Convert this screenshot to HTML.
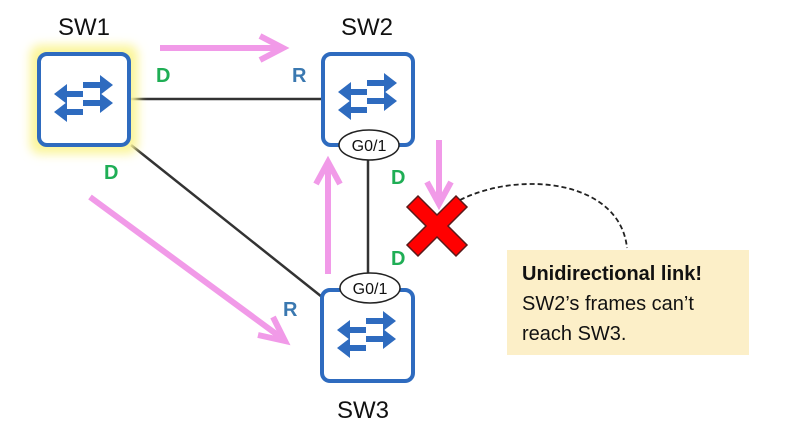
<!DOCTYPE html>
<html><head><style>
body{margin:0;background:#fff;}
svg{display:block;font-family:"Liberation Sans",sans-serif;}
</style></head><body>
<svg width="788" height="435" viewBox="0 0 788 435">
<defs>
<filter id="glow" x="-30%" y="-30%" width="160%" height="160%"><feGaussianBlur stdDeviation="5"/></filter>
<g id="icon" fill="#2e6bbf">
<path d="M46 30 h17 v-7 l13 10 -13 10 v-7 h-17z"/>
<path d="M46 48 h17 v-7 l13 10 -13 10 v-7 h-17z"/>
<path d="M46 39 h-16 v-7 l-13 10 13 10 v-7 h16z"/>
<path d="M46 57 h-16 v-7 l-13 10 13 10 v-7 h16z"/>
</g>
</defs>
<line x1="131" y1="99" x2="321" y2="99" stroke="#333" stroke-width="2.5"/>
<line x1="131" y1="145" x2="322" y2="297" stroke="#333" stroke-width="2.5"/>
<line x1="368" y1="158" x2="368" y2="274" stroke="#333" stroke-width="2.5"/>
<rect x="30" y="45" width="108" height="109" rx="10" fill="#fbf59a" filter="url(#glow)"/>
<rect x="39" y="54" width="90" height="91" rx="8" fill="#fff" stroke="#2e6bbf" stroke-width="4"/>
<use href="#icon" x="37" y="52"/>
<rect x="323" y="54" width="90" height="91" rx="8" fill="#fff" stroke="#2e6bbf" stroke-width="4"/>
<use href="#icon" x="321" y="50"/>
<rect x="322" y="290" width="91" height="91" rx="8" fill="#fff" stroke="#2e6bbf" stroke-width="4"/>
<use href="#icon" x="320" y="288"/>
<ellipse cx="369" cy="145" rx="30" ry="15" fill="#fff" stroke="#222" stroke-width="1.5"/>
<text x="369" y="151" font-size="16" text-anchor="middle" fill="#111">G0/1</text>
<ellipse cx="370" cy="288" rx="30" ry="15" fill="#fff" stroke="#222" stroke-width="1.5"/>
<text x="370" y="294" font-size="16" text-anchor="middle" fill="#111">G0/1</text>
<text x="84" y="35" font-size="24" text-anchor="middle" fill="#111">SW1</text>
<text x="367" y="35" font-size="24" text-anchor="middle" fill="#111">SW2</text>
<text x="363" y="418" font-size="24" text-anchor="middle" fill="#111">SW3</text>
<g font-size="20" font-weight="bold">
<text x="156" y="82" fill="#1fae55">D</text>
<text x="292" y="82" fill="#3a78b0">R</text>
<text x="104" y="179" fill="#1fae55">D</text>
<text x="391" y="184" fill="#1fae55">D</text>
<text x="391" y="265" fill="#1fae55">D</text>
<text x="283" y="316" fill="#3a78b0">R</text>
</g>
<g stroke="#f19ae8" stroke-width="6" fill="none">
<line x1="160" y1="48" x2="282" y2="48"/>
<polyline points="260,36 283,48 260,60"/>
<line x1="90" y1="197" x2="283" y2="339"/>
<polyline points="258,335 285,341 273,317"/>
<line x1="328" y1="274" x2="328" y2="163"/>
<polyline points="316,184 328,162 340,184"/>
<line x1="439" y1="140" x2="439" y2="203"/>
<polyline points="427,182 439,204 451,182"/>
</g>
<path d="M418 196 L437 215 L456 196 L467 207 L448 226 L467 245 L456 256 L437 237 L418 256 L407 245 L426 226 L407 207Z" fill="#f00" stroke="#5a1a1a" stroke-width="1.5"/>
<path d="M460 200 C520 170 620 180 627 248" fill="none" stroke="#222" stroke-width="1.8" stroke-dasharray="5,3"/>
<rect x="507" y="250" width="242" height="105" fill="#fcefc8"/>
<text x="522" y="280" font-size="20" font-weight="bold" fill="#111">Unidirectional link!</text>
<text x="522" y="310" font-size="20" fill="#111">SW2’s frames can’t</text>
<text x="522" y="340" font-size="20" fill="#111">reach SW3.</text>
</svg>
</body></html>
